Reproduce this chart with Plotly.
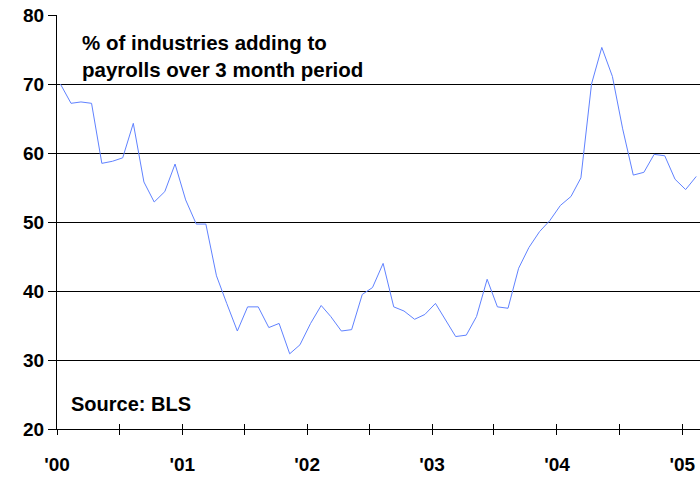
import pandas as pd
import plotly.graph_objects as go

# share of industries adding to payrolls over 3 months, monthly Jan 2000 - Feb 2005
months = pd.date_range("2000-01-01", periods=62, freq="MS") + pd.Timedelta(days=10)
pct_adding = [
    70.0, 67.2, 67.4, 67.2, 58.5, 58.8, 59.3, 64.3, 55.8, 52.9, 54.4, 58.4,
    53.2, 49.7, 49.7, 42.2, 38.2, 34.2, 37.7, 37.7, 34.7, 35.3, 30.9, 32.2,
    35.3, 37.9, 36.3, 34.2, 34.4, 39.5, 40.5, 44.0, 37.7, 37.1, 35.9, 36.6,
    38.2, 35.6, 33.4, 33.6, 36.3, 41.7, 37.7, 37.5, 43.3, 46.3, 48.6, 50.2,
    52.4, 53.7, 56.4, 70.0, 75.3, 71.1, 63.5, 56.8, 57.2, 59.8, 59.6, 56.2,
    54.7, 56.6,
]
tick_dates = pd.date_range("2000-01-01", "2005-01-01", freq="6MS")
tick_text = ["'%02d" % (d.year % 100) if d.month == 1 else "" for d in tick_dates]
y_ticks = [20, 30, 40, 50, 60, 70, 80]

FONT = "Arial, Liberation Sans, sans-serif"
x_range = ["2000-01-01", "2005-02-22"]

fig = go.Figure()
fig.add_trace(go.Scatter(x=months, y=pct_adding, mode="lines",
                         line=dict(color="#6082ff", width=1), showlegend=False))
# invisible trace on overlaid axis, to get ticks crossing the axis line
fig.add_trace(go.Scatter(x=months[:1], y=pct_adding[:1], xaxis="x2", mode="lines",
                         line=dict(width=0), hoverinfo="skip", showlegend=False))

fig.update_layout(
    width=700, height=478,
    margin=dict(l=57, r=0, t=15, b=49),
    plot_bgcolor="white", paper_bgcolor="white",
    font=dict(family=FONT, color="black"),
    xaxis=dict(
        type="date", range=x_range, tickmode="array", tickvals=tick_dates, ticktext=tick_text,
        ticks="outside", ticklen=5, tickcolor="black", tickwidth=1,
        showline=True, linecolor="black", linewidth=1, showgrid=False, zeroline=False,
        tickfont=dict(size=19, weight="bold"), ticklabelstandoff=13, automargin=False,
    ),
    xaxis2=dict(
        type="date", range=x_range, overlaying="x", side="bottom", anchor="y",
        tickmode="array", tickvals=tick_dates, ticktext=["" for _ in tick_dates],
        ticks="inside", ticklen=5, tickcolor="black", tickwidth=1,
        showline=False, showgrid=False, zeroline=False, automargin=False,
    ),
    yaxis=dict(
        range=[20, 80], tickmode="array", tickvals=y_ticks,
        ticks="outside", ticklen=8, tickcolor="black",
        showline=True, linecolor="black", linewidth=1,
        showgrid=True, gridcolor="black", gridwidth=1, zeroline=False,
        tickfont=dict(size=19, weight="bold"), automargin=False,
    ),
)

fig.add_annotation(x=0.036, y=0.902, xref="paper", yref="paper", xanchor="left", yanchor="middle",
                   align="left", showarrow=False,
                   text="% of industries adding to<br>payrolls over 3 month period",
                   font=dict(size=20.5, weight="bold", family=FONT))
fig.add_annotation(x=0.018, y=0.06, xref="paper", yref="paper", xanchor="left", yanchor="middle",
                   align="left", showarrow=False, text="Source: BLS",
                   font=dict(size=20, weight="bold", family=FONT))

# drop the page's default body margin so the figure sits at the window's corner
fig.write_html("out.html", config={"displayModeBar": False},
               post_script="document.body.style.margin = '0';")
